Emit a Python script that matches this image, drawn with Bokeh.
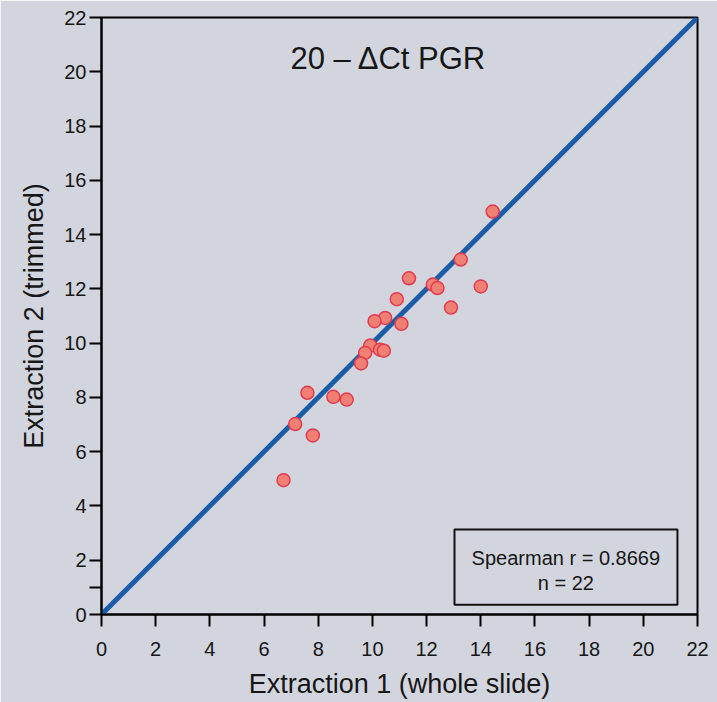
from bokeh.plotting import figure
from bokeh.models import Range1d, FixedTicker, Label, BoxAnnotation
from bokeh.embed import file_html
from bokeh.resources import INLINE

# ---- data ----
extraction1 = [14.44, 13.26, 11.35, 12.23, 12.40, 14.00, 10.90, 12.90, 10.47, 10.08, 11.07,
               9.92, 10.28, 10.42, 9.73, 9.58, 7.60, 8.56, 9.05, 7.15, 7.80, 6.72]
extraction2 = [14.85, 13.08, 12.39, 12.16, 12.03, 12.09, 11.62, 11.31, 10.93, 10.81, 10.71,
               9.91, 9.76, 9.72, 9.64, 9.25, 8.17, 8.02, 7.92, 7.02, 6.60, 4.95]
x_ticks = [0, 2, 4, 6, 8, 10, 12, 14, 16, 18, 20, 22]
y_ticks = [0, 2, 4, 6, 8, 10, 12, 14, 16, 18, 20, 22]
y_minor_ticks = [1]
axis_min, axis_max = 0, 22
title_text = "20 \u2013 \u0394Ct PGR"
x_label = "Extraction 1 (whole slide)"
y_label = "Extraction 2 (trimmed)"
spearman_r = 0.8669
n_points = len(extraction1)

# ---- style ----
BG = "#D3D5DE"
FONT = "Liberation Sans"
TXT = "#161616"

p = figure(width=717, height=702,
           x_range=Range1d(axis_min, axis_max), y_range=Range1d(axis_min, axis_max),
           output_backend="svg", toolbar_location=None,
           min_border_left=101, min_border_top=17, min_border_right=20, min_border_bottom=88)
p.background_fill_color = BG
p.border_fill_color = BG
p.grid.visible = False
p.outline_line_color = "black"
p.outline_line_width = 2

p.xaxis.ticker = FixedTicker(ticks=x_ticks)
p.yaxis.ticker = FixedTicker(ticks=y_ticks, minor_ticks=y_minor_ticks)
for ax in (p.xaxis, p.yaxis):
    ax.axis_line_width = 2
    ax.axis_line_color = "black"
    ax.major_tick_in = 0
    ax.major_tick_out = 12
    ax.major_tick_line_width = 2
    ax.major_tick_line_color = "black"
    ax.major_label_text_font = FONT
    ax.major_label_text_font_size = "20px"
    ax.major_label_text_color = TXT
    ax.axis_label_text_font = FONT
    ax.axis_label_text_font_size = "27px"
    ax.axis_label_text_font_style = "normal"
    ax.axis_label_text_color = TXT
p.xaxis.minor_tick_line_color = None
p.yaxis.minor_tick_in = 0
p.yaxis.minor_tick_out = 12
p.yaxis.minor_tick_line_width = 2
p.yaxis.minor_tick_line_color = "black"
p.xaxis.major_label_standoff = 15
p.yaxis.major_label_standoff = 3
p.xaxis.axis_label_standoff = 10
p.yaxis.axis_label_standoff = 12
p.xaxis.axis_label = x_label
p.yaxis.axis_label = y_label

# identity line
p.line([axis_min, axis_max], [axis_min, axis_max], line_color="#1A5CA8", line_width=5)

# points
p.scatter(extraction1, extraction2, size=13, fill_color="#F08073",
          line_color="#E33A50", line_width=1.5)

# title inside the plot
p.add_layout(Label(x=10.6, y=20.5, text=title_text, text_align="center",
                   text_baseline="middle", text_font=FONT,
                   text_font_size="31px", text_color=TXT))

# stats box
p.add_layout(BoxAnnotation(left=13.03, right=21.26, bottom=0.36, top=3.13,
                           fill_color=BG, fill_alpha=1.0, line_color="#111111",
                           line_alpha=1.0, line_width=2))
p.add_layout(Label(x=17.14, y=2.09, text=f"Spearman r = {spearman_r:.4f}",
                   text_align="center", text_baseline="middle", text_font=FONT,
                   text_font_size="20px", text_color=TXT))
p.add_layout(Label(x=17.14, y=1.17, text=f"n = {n_points}",
                   text_align="center", text_baseline="middle", text_font=FONT,
                   text_font_size="20px", text_color=TXT))

html = file_html(p, INLINE)
html = html.replace("<body>", '<body style="margin:0;overflow:hidden;background-color:%s;">' % BG, 1)
open("out.html", "w").write(html)
